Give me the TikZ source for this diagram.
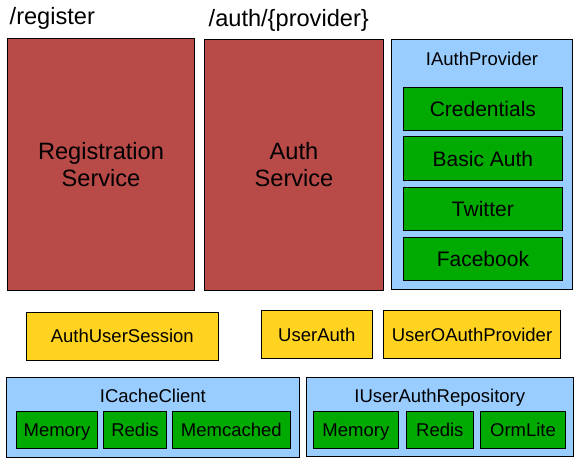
\documentclass[tikz,border=0pt]{standalone}
\usepackage{fontspec}
\setmainfont{Liberation Sans}
\definecolor{svcred}{RGB}{184,74,72}
\definecolor{ifblue}{RGB}{153,204,255}
\definecolor{implgreen}{RGB}{0,170,0}
\definecolor{dtoyellow}{RGB}{255,211,32}
\tikzset{
  bx/.style={draw=black, line width=1pt, inner sep=0pt, anchor=center},
  capc/.style={text height=13.25pt, text depth=0pt},
  capcbig/.style={text height=15.05pt, text depth=0pt},
  svc/.style={bx, fill=svcred, align=center, font=\fontsize{23.6}{27}\selectfont},
  iface/.style={bx, fill=ifblue},
  impl/.style={bx, capc, fill=implgreen, font=\fontsize{18.5}{22}\selectfont},
  implbig/.style={bx, capcbig, fill=implgreen, font=\fontsize{21}{24}\selectfont},
  dto/.style={bx, capc, fill=dtoyellow, font=\fontsize{18.5}{22}\selectfont},
  lbl/.style={inner sep=0pt, capc, font=\fontsize{18.5}{22}\selectfont},
  route/.style={inner sep=0pt, anchor=base west, font=\fontsize{23.6}{27}\selectfont}
}
\begin{document}
\begin{tikzpicture}[x=1pt,y=-1pt]
\useasboundingbox (0,0) rectangle (579,465);
% routes
\node[route] (rreg) at (9.5,25) {/register};
\node[route] (rauth) at (208.5,26.7) {/auth/\{provider\}};
% services
\node[svc, minimum width=187.4pt, minimum height=252pt] (reg) at (101,164.3) {Registration\\Service};
\node[svc, minimum width=179.4pt, minimum height=251pt] (auth) at (294,164.8) {Auth\\Service};
% IAuthProvider
\node[iface, minimum width=181.4pt, minimum height=250.3pt] (iap) at (482,164.2) {};
\node[lbl] (iapl) at (482,59) {IAuthProvider};
\node[implbig, minimum width=159.7pt, minimum height=43.3pt] (cred) at (482.9,108.7) {Credentials};
\node[implbig, minimum width=159.7pt, minimum height=43.3pt] (basic) at (482.9,158.5) {Basic Auth};
\node[implbig, minimum width=159.7pt, minimum height=43.3pt] (tw) at (482.9,209) {Twitter};
\node[implbig, minimum width=159.7pt, minimum height=43.3pt] (fb) at (482.9,258.8) {Facebook};
% session / dto
\node[dto, minimum width=192pt, minimum height=48pt] (aus) at (122.3,336.3) {AuthUserSession};
\node[dto, minimum width=111pt, minimum height=47.6pt] (ua) at (316.8,334.5) {UserAuth};
\node[dto, minimum width=176.6pt, minimum height=47.6pt] (uoap) at (472,334.5) {UserOAuthProvider};
% ICacheClient
\node[iface, minimum width=293.2pt, minimum height=80pt] (icc) at (152.9,417.3) {};
\node[lbl] (iccl) at (152.9,395.7) {ICacheClient};
\node[impl, minimum width=81.4pt, minimum height=37pt] (mem1) at (57,429.8) {Memory};
\node[impl, minimum width=63.4pt, minimum height=37pt] (red1) at (135,429.8) {Redis};
\node[impl, minimum width=118.7pt, minimum height=37pt] (memc) at (231.35,429.8) {Memcached};
% IUserAuthRepository
\node[iface, minimum width=267pt, minimum height=79.3pt] (iuar) at (439.8,417.3) {};
\node[lbl] (iuarl) at (439.8,395.5) {IUserAuthRepository};
\node[impl, minimum width=85.7pt, minimum height=37pt] (mem2) at (355.85,429.8) {Memory};
\node[impl, minimum width=67pt, minimum height=37pt] (red2) at (439.8,429.8) {Redis};
\node[impl, minimum width=85.4pt, minimum height=37pt] (orm) at (523,429.8) {OrmLite};
\end{tikzpicture}
\end{document}
